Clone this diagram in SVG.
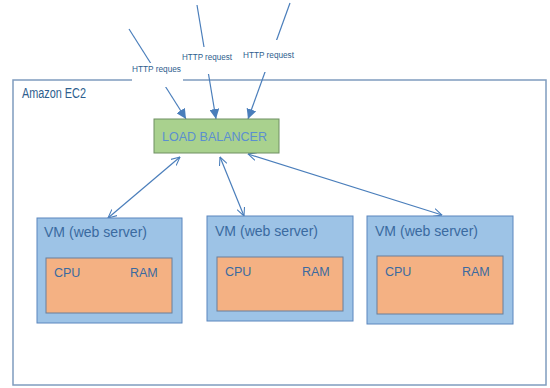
<svg xmlns="http://www.w3.org/2000/svg" width="550" height="388" viewBox="0 0 550 388">
<defs>
<marker id="fill" viewBox="0 0 10 10" refX="10" refY="5" markerWidth="10" markerHeight="10" markerUnits="userSpaceOnUse" orient="auto">
<path d="M0,0 L10,5 L0,10 Z" fill="#4a7ebb"/>
</marker>
<marker id="open" viewBox="0 0 10 10" refX="9.5" refY="5" markerWidth="9" markerHeight="9" markerUnits="userSpaceOnUse" orient="auto-start-reverse">
<path d="M0,0.5 L9.5,5 L0,9.5" fill="none" stroke="#4a7ebb" stroke-width="1.2"/>
</marker>
</defs>
<style>
.ln{stroke:#4a7ebb;stroke-width:1.2;fill:none}
.vm{fill:#9dc3e6;stroke:#5b86be;stroke-width:1}
.hw{fill:#f4b183;stroke:#6b7f99;stroke-width:1}
.t{font-family:"Liberation Sans",Arial,sans-serif}
.vt{font-size:14px;fill:#3a6aa0}
.hwt{font-size:12.5px;fill:#3a6aa0}
.ht{font-size:8.3px;fill:#2e5e8e}
</style>
<rect width="550" height="388" fill="#ffffff"/>
<g id="ec2">
<rect x="13" y="80" width="533" height="305" fill="none" stroke="#7f9cbf" stroke-width="1.5"/>
<text class="t" x="22" y="98" font-size="14" fill="#2e5e8e" textLength="64" lengthAdjust="spacingAndGlyphs">Amazon EC2</text>
</g>
<g id="connectors">
<line class="ln" x1="129" y1="29" x2="186" y2="119" marker-end="url(#fill)"/>
<line class="ln" x1="197" y1="5" x2="216" y2="119" marker-end="url(#fill)"/>
<line class="ln" x1="290" y1="3" x2="248" y2="119" marker-end="url(#fill)"/>
<line class="ln" x1="180" y1="157" x2="108" y2="218" marker-start="url(#open)" marker-end="url(#open)"/>
<line class="ln" x1="220" y1="157" x2="244" y2="216" marker-start="url(#open)" marker-end="url(#open)"/>
<line class="ln" x1="248" y1="154" x2="442" y2="215" marker-start="url(#open)" marker-end="url(#open)"/>
</g>
<g id="labels">
<rect x="132" y="63" width="51" height="24" fill="#ffffff"/>
<rect x="180" y="47" width="54" height="27" fill="#ffffff"/>
<rect x="241" y="40" width="55" height="32" fill="#ffffff"/>
<text class="t ht" x="132" y="72" textLength="49" lengthAdjust="spacingAndGlyphs">HTTP reques</text>
<text class="t ht" x="182" y="60" textLength="50" lengthAdjust="spacingAndGlyphs">HTTP request</text>
<text class="t ht" x="243" y="58" textLength="51" lengthAdjust="spacingAndGlyphs">HTTP request</text>
</g>
<g id="load-balancer">
<rect x="154" y="119" width="125" height="34" fill="#a9d18e" stroke="#6f8f62" stroke-width="1"/>
<text class="t" x="162" y="141" font-size="13" fill="#5b8fd0" textLength="105" lengthAdjust="spacingAndGlyphs">LOAD BALANCER</text>
</g>
<g id="vm1">
<rect class="vm" x="37" y="218" width="145" height="105"/>
<text class="t vt" x="44" y="237" textLength="103" lengthAdjust="spacingAndGlyphs">VM (web server)</text>
<rect class="hw" x="46" y="258" width="126" height="55"/>
<text class="t hwt" x="54" y="277">CPU</text>
<text class="t hwt" x="130" y="277">RAM</text>
</g>
<g id="vm2">
<rect class="vm" x="207" y="216" width="146" height="105"/>
<text class="t vt" x="215" y="236" textLength="103" lengthAdjust="spacingAndGlyphs">VM (web server)</text>
<rect class="hw" x="217" y="257" width="126" height="54"/>
<text class="t hwt" x="225" y="276">CPU</text>
<text class="t hwt" x="302" y="276">RAM</text>
</g>
<g id="vm3">
<rect class="vm" x="367" y="216" width="146" height="108"/>
<text class="t vt" x="375" y="236" textLength="103" lengthAdjust="spacingAndGlyphs">VM (web server)</text>
<rect class="hw" x="377" y="256" width="126" height="58"/>
<text class="t hwt" x="385" y="276">CPU</text>
<text class="t hwt" x="462" y="276">RAM</text>
</g>
</svg>
